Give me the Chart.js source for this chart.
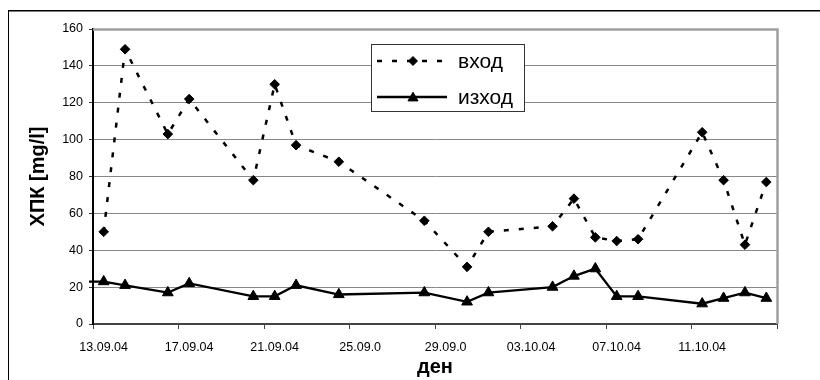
<!DOCTYPE html>
<html><head><meta charset="utf-8">
<script src="https://cdn.jsdelivr.net/npm/chart.js@4/dist/chart.umd.min.js"></script>
<style>html,body{margin:0;padding:0;background:#fff;}#wrap{width:820px;height:380px;position:relative;}</style>
</head><body><div id="wrap"><canvas id="c" width="820" height="380"></canvas></div>
<script>
// ---- data ----
const dates = ['12.09.04','13.09.04','14.09.04','16.09.04','17.09.04','20.09.04','21.09.04','22.09.04','24.09.04','28.09.04','30.09.04','01.10.04','04.10.04','05.10.04','06.10.04','07.10.04','08.10.04','11.10.04','12.10.04','13.10.04','14.10.04'];
const inflow  = [null,50,149,103,122,78,130,97,88,56,31,50,53,68,47,45,46,104,78,43,77];
const outflow = [23,23,21,17,22,15,15,21,16,17,12,17,20,26,30,15,15,11,14,17,14];
const seriesNames = ['вход','изход'];
const xTickLabels = ['13.09.04','17.09.04','21.09.04','25.09.0','29.09.0','03.10.04','07.10.04','11.10.04'];
const axisStartDate = '13.09.04';
const axisDays = 32;
const dayStep = 4;
const yMax = 160, yStep = 20;
const xTitle = 'ден';
const yTitle = 'ХПК [mg/l]';

function parseDate(s){const [d,m,y]=s.split('.').map(Number);return Date.UTC(2000+y,m-1,d);}
const t0 = parseDate(axisStartDate);
const dayPos = dates.map(s => (parseDate(s)-t0)/86400000 + 0.5); // centre of the day slot
const toPts = arr => arr.map((v,i)=>({x:dayPos[i], y:v}));

const FONT = "'Liberation Sans', Arial, sans-serif";

const framePlugin = {
  id:'frame',
  beforeDraw(chart){
    const ctx = chart.ctx;
    ctx.save();
    ctx.fillStyle='#fff'; ctx.fillRect(0,0,chart.width,chart.height);
    ctx.fillStyle='#000';
    ctx.fillRect(8,10,chart.width-8,1.5);
    ctx.fillRect(8,10,1,chart.height-10);
    ctx.restore();
  },
  beforeDatasetsDraw(chart){
    const {ctx, chartArea:a} = chart;
    ctx.save();
    ctx.strokeStyle='#a0a0a0'; ctx.lineWidth=2.5;
    ctx.beginPath();
    ctx.moveTo(a.left, a.top+0.5); ctx.lineTo(a.right+0.5, a.top+0.5); ctx.lineTo(a.right+0.5, a.bottom);
    ctx.stroke();
    ctx.restore();
  },
  afterDatasetsDraw(chart){
    const ctx = chart.ctx;
    ctx.save();
    const bx=371.5, by=44.5, bw=153, bh=67;
    ctx.fillStyle='#fff'; ctx.fillRect(bx,by,bw,bh);
    ctx.strokeStyle='#333'; ctx.lineWidth=1; ctx.strokeRect(bx,by,bw,bh);
    chart.data.datasets.forEach((ds,i)=>{
      const y = 61 + i*36;
      ctx.save();
      ctx.strokeStyle=ds.borderColor; ctx.lineWidth=ds.borderWidth;
      ctx.setLineDash(ds.borderDash||[]);
      ctx.beginPath(); ctx.moveTo(377,y); ctx.lineTo(447,y); ctx.stroke();
      ctx.restore();
      ctx.save();
      ctx.fillStyle='#000'; ctx.strokeStyle='#000'; ctx.lineWidth=1;
      Chart.helpers.drawPoint(ctx,{pointStyle:ds.pointStyle, radius:ds.legendRadius, borderWidth:1, rotation:0}, 413, y + (ds.pointStyle==='triangle'?1:0));
      ctx.restore();
      ctx.fillStyle='#000'; ctx.font = "21px "+FONT; ctx.textBaseline='middle'; ctx.textAlign='left';
      ctx.fillText(ds.label, 458, y+1);
    });
    ctx.restore();
  }
};

new Chart(document.getElementById('c'), {
  type:'line',
  data:{datasets:[
    {label:seriesNames[0], data:toPts(inflow), borderColor:'#000', borderWidth:2.5, borderDash:[5,10],
     pointStyle:'rectRot', pointRadius:4.8, legendRadius:4.5, pointBackgroundColor:'#000', pointBorderColor:'#000', pointBorderWidth:1,
     tension:0, spanGaps:false},
    {label:seriesNames[1], data:toPts(outflow), borderColor:'#000', borderWidth:2.3,
     pointStyle:'triangle', legendRadius:5.8,
     pointRadius: c => (c.raw && c.raw.x < 0) ? 0 : 6.2,
     pointBackgroundColor:'#000', pointBorderColor:'#000', pointBorderWidth:1,
     tension:0, clip:{left:4, top:0, right:0, bottom:0}}
  ]},
  options:{
    responsive:false, animation:false, devicePixelRatio:1,
    layout:{padding:{left:0, top:29, right:43, bottom:0}},
    plugins:{legend:{display:false}, tooltip:{enabled:false}},
    scales:{
      x:{type:'linear', min:0, max:axisDays,
         afterFit: s => { s.height = 56; },
         ticks:{stepSize:dayStep, autoSkip:false, maxRotation:0, minRotation:0, labelOffset:10.7, padding:11,
                color:'#000', font:{family:FONT, size:12.5},
                callback: v => { const k = v/dayStep; return Number.isInteger(k) && xTickLabels[k] !== undefined ? xTickLabels[k] : ''; }},
         grid:{drawOnChartArea:false, drawTicks:true, tickLength:5, tickColor:'#444', tickWidth:1},
         border:{display:true, color:'#444', width:2},
         title:{display:true, text:xTitle, color:'#000', font:{family:FONT, size:20, weight:'bold'}, padding:{top:0, bottom:1}}},
      y:{type:'linear', min:0, max:yMax,
         afterFit: s => { s.width = 93; },
         ticks:{stepSize:yStep, padding:6, color:'#000', font:{family:FONT, size:12.5}},
         grid:{color:'#888', lineWidth:1, tickLength:4, tickColor:'#333', drawTicks:true},
         border:{display:true, color:'#000', width:2},
         title:{display:true, text:yTitle, color:'#000', font:{family:FONT, size:20, weight:'bold'}, padding:{top:26, bottom:0}}}
    }
  },
  plugins:[framePlugin]
});
</script></body></html>
